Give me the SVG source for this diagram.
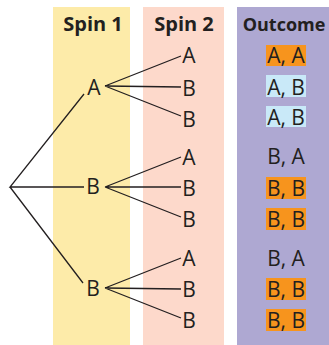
<svg xmlns="http://www.w3.org/2000/svg" width="329" height="345" viewBox="0 0 329 345">
<style>
.hd{font-family:"Open Sans",sans-serif;font-weight:bold;font-size:20px;fill:#231F20;text-anchor:middle}
.lb{font-family:"Open Sans",sans-serif;font-size:21px;fill:#231F20;text-anchor:middle}
.ln{stroke:#231F20;stroke-width:1.3;fill:none}
.or{fill:#F7941D}
.bl{fill:#C9E9F8}
</style>
<rect x="53" y="7" width="77" height="338" fill="#FDEBA9"/>
<rect x="143" y="7" width="81" height="338" fill="#FDD9CB"/>
<rect x="237" y="7" width="92" height="338" fill="#AEA8D2"/>
<text class="hd" x="93" y="31">Spin 1</text>
<text class="hd" x="184" y="31">Spin 2</text>
<text class="hd" x="284" y="31" style="font-size:18px">Outcome</text>
<g id="connectors">
<path class="ln" d="M84,94 L10,187 L84,187 M10,187 L83,283"/>
<path class="ln" d="M105,86 L181,56 M105,86 L181,87 M105,86 L181,116"/>
<path class="ln" d="M105,187 L181,157 M105,187 L181,187 M105,187 L181,217"/>
<path class="ln" d="M105,288 L181,258 M105,288 L181,289 M105,288 L181,318"/>
</g>
<g id="s1a"><text class="lb" x="94" y="95">A</text></g>
<g id="s1b1"><text class="lb" x="93" y="194">B</text></g>
<g id="s1b2"><text class="lb" x="93" y="296">B</text></g>
<g id="s2-1"><text class="lb" x="189" y="63">A</text></g>
<g id="s2-2"><text class="lb" x="189" y="96">B</text></g>
<g id="s2-3"><text class="lb" x="189" y="127">B</text></g>
<g id="s2-4"><text class="lb" x="189" y="165">A</text></g>
<g id="s2-5"><text class="lb" x="189" y="196">B</text></g>
<g id="s2-6"><text class="lb" x="189" y="227">B</text></g>
<g id="s2-7"><text class="lb" x="189" y="266">A</text></g>
<g id="s2-8"><text class="lb" x="189" y="297">B</text></g>
<g id="s2-9"><text class="lb" x="189" y="328">B</text></g>
<g id="o1"><rect class="or" x="266" y="45" width="40" height="21"/><text class="lb" x="286" y="63">A, A</text></g>
<g id="o2"><rect class="bl" x="266" y="75" width="40" height="22"/><text class="lb" x="286" y="95">A, B</text></g>
<g id="o3"><rect class="bl" x="266" y="106" width="40" height="21"/><text class="lb" x="286" y="125">A, B</text></g>
<g id="o4"><text class="lb" x="286" y="164">B, A</text></g>
<g id="o5"><rect class="or" x="266" y="177" width="40" height="22"/><text class="lb" x="286" y="196">B, B</text></g>
<g id="o6"><rect class="or" x="266" y="208" width="40" height="22"/><text class="lb" x="286" y="227">B, B</text></g>
<g id="o7"><text class="lb" x="286" y="266">B, A</text></g>
<g id="o8"><rect class="or" x="266" y="278" width="40" height="22"/><text class="lb" x="286" y="297">B, B</text></g>
<g id="o9"><rect class="or" x="266" y="309" width="40" height="22"/><text class="lb" x="286" y="328">B, B</text></g>
</svg>
